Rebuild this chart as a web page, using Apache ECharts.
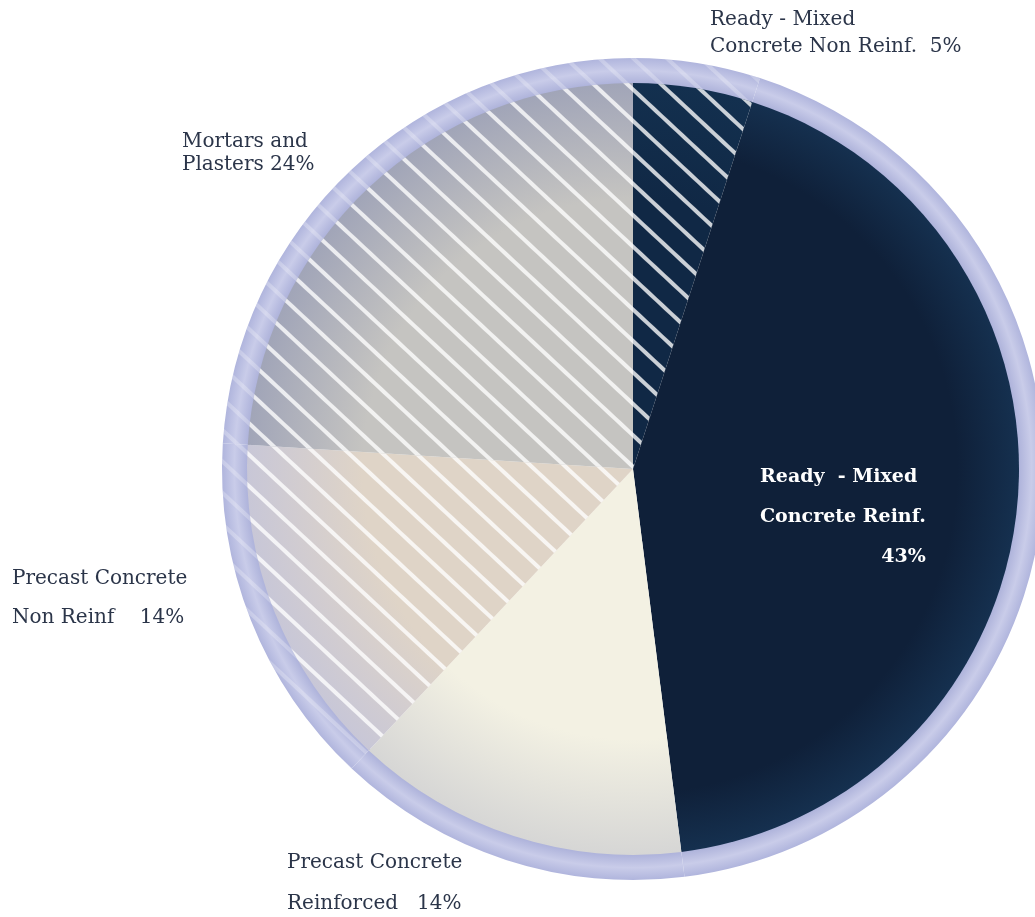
<!DOCTYPE html>
<html>
<head>
<meta charset="utf-8">
<script src="https://cdn.jsdelivr.net/npm/echarts@6.0.0/dist/echarts.min.js"></script>
<style>
html, body { margin: 0; padding: 0; background: #fff; }
#chart { width: 1035px; height: 917px; }
</style>
</head>
<body>
<div id="chart"></div>
<script>
// segments, clockwise from 12 o'clock
var segmentNames = [
    'Ready - Mixed\nConcrete Non Reinf.',
    'Ready  - Mixed\nConcrete Reinf.',
    'Precast Concrete\nReinforced',
    'Precast Concrete\nNon Reinf',
    'Mortars and\nPlasters'
];
var segmentValues = [5, 43, 14, 14, 24];

// look of each segment
var fillColors = ['#102845', '#0f2039', '#f3f1e3', '#dfd4c7', '#c5c4c1'];
var edgeColors = ['#13304f', '#15304f', '#d6d6d5', '#c8c7d7', '#a1a5b8'];
var hatched = [true, false, false, true, true];
var pctSep = ['  ', '\n', '   ', '    ', ' '];
// label block top-left corners and line heights
var labelPos = [[710, 6], [760, 457], [287, 842], [12, 559], [182, 130]];
var labelLineH = [27, 40, 41, 39, 23];

var CX = 633, CY = 469, R_IN = 386, R_OUT = 411;

function radial(c, edge, from) {
    return {
        type: 'radial', x: CX, y: CY, r: R_IN, global: true,
        colorStops: [
            { offset: 0, color: c },
            { offset: from, color: c },
            { offset: 1, color: edge }
        ]
    };
}

function hatch(alpha) {
    return {
        symbol: 'rect',
        symbolSize: 1,
        dashArrayX: [1, 0],
        dashArrayY: [3.5, 19],
        rotation: 0.75,
        color: 'rgba(255,255,255,' + alpha + ')'
    };
}

var pieData = segmentNames.map(function (name, i) {
    var item = {
        name: name,
        value: segmentValues[i],
        itemStyle: { color: radial(fillColors[i], edgeColors[i], i === 1 ? 0.84 : 0.7) },
        label: { lineHeight: labelLineH[i] }
    };
    if (hatched[i]) item.itemStyle.decal = hatch(0.78);
    if (pctSep[i] === '\n') item.label.position = 'inside';
    return item;
});

var ringData = segmentNames.map(function (name, i) {
    var item = { name: name, value: segmentValues[i], itemStyle: {} };
    if (hatched[i]) item.itemStyle.decal = hatch(0.25);
    return item;
});

var chart = echarts.init(document.getElementById('chart'));
chart.setOption({
    animation: false,
    series: [
        {
            type: 'pie',
            silent: true,
            center: [CX, CY],
            radius: [R_IN - 2, R_OUT],
            startAngle: 90,
            label: { show: false },
            labelLine: { show: false },
            itemStyle: {
                borderWidth: 0,
                color: {
                    type: 'radial', x: CX, y: CY, r: R_OUT, global: true,
                    colorStops: [
                        { offset: 0.935, color: '#abb0d9' },
                        { offset: 0.97, color: '#c9cce9' },
                        { offset: 1, color: '#b0b5dd' }
                    ]
                }
            },
            data: ringData
        },
        {
            type: 'pie',
            silent: true,
            center: [CX, CY],
            radius: [0, R_IN],
            startAngle: 90,
            itemStyle: { borderWidth: 0 },
            labelLine: { show: false },
            label: {
                show: true,
                position: 'outside',
                overflow: 'none',
                fontFamily: 'DejaVu Serif',
                fontSize: 20,
                color: '#2b3549',
                formatter: function (p) {
                    var sep = pctSep[p.dataIndex];
                    if (sep === '\n') {
                        return p.name.split('\n').map(function (s) {
                            return '{w|' + s + '}';
                        }).join('\n') + '\n{wr|' + p.value + '%}';
                    }
                    return p.name + sep + p.value + '%';
                },
                rich: {
                    w: {
                        color: '#ffffff',
                        fontWeight: 'bold',
                        fontFamily: 'DejaVu Serif',
                        fontSize: 19,
                        lineHeight: 40
                    },
                    wr: {
                        align: 'right',
                        color: '#ffffff',
                        fontWeight: 'bold',
                        fontFamily: 'DejaVu Serif',
                        fontSize: 19,
                        lineHeight: 40
                    }
                }
            },
            labelLayout: function (params) {
                var p = labelPos[params.dataIndex];
                return { x: p[0], y: p[1], align: 'left', verticalAlign: 'top', hideOverlap: false };
            },
            data: pieData
        }
    ]
});
</script>
</body>
</html>
